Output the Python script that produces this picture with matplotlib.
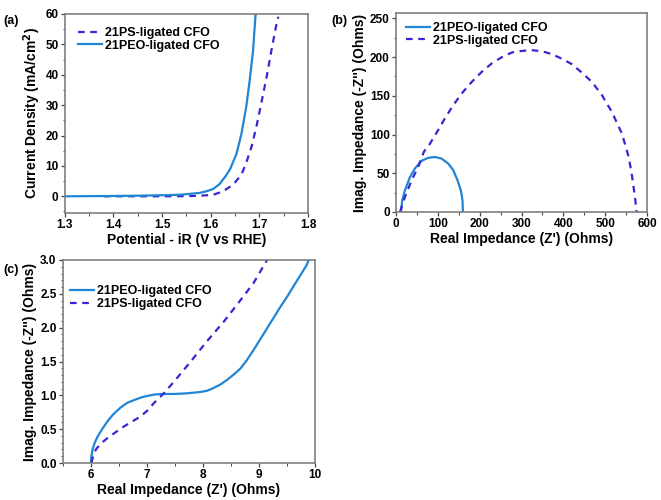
import matplotlib.pyplot as plt
from matplotlib import ticker

FONT_SIZE = 10
TICK_SIZE = 8.5
LEGEND_SIZE = 9

PEO_COLOR = "#2185d5"
PS_COLOR = "#3a24d4"

LABEL_PEO = "21PEO-ligated CFO"
LABEL_PS = "21PS-ligated CFO"

# (a) polarization curves, potential (V vs RHE) / current density (mA/cm2)
lsv_peo_v = [1.30, 1.35, 1.40, 1.45, 1.50, 1.536, 1.557, 1.577, 1.59, 1.605, 1.618, 1.63, 1.64,
             1.653, 1.663, 1.673, 1.68, 1.687, 1.692, 1.693]
lsv_peo_j = [0.0, 0.05, 0.1, 0.2, 0.35, 0.5, 0.8, 1.1, 1.6, 2.4, 4.0, 6.5, 9.0,
             14.0, 20.5, 29.5, 38.0, 48.0, 59.5, 60.0]
lsv_ps_v = [1.38, 1.45, 1.50, 1.55, 1.58, 1.605, 1.625, 1.646, 1.663, 1.673, 1.684, 1.694,
            1.704, 1.715, 1.725, 1.734, 1.739]
lsv_ps_j = [0.0, 0.0, 0.0, 0.05, 0.2, 0.5, 1.6, 3.8, 7.1, 11.0, 16.4, 23.0,
            30.7, 39.4, 48.2, 55.8, 59.1]

# (b) Nyquist plots, full range (Ohms)
eis_peo_re = [12, 15, 21.5, 33.5, 45, 61, 77, 93, 109, 125, 137, 147, 155, 159, 160]
eis_peo_im = [0, 15, 28, 45, 56, 66, 70, 71, 69, 62.5, 54, 41, 28, 15, 0]
eis_ps_re = [9.6, 21.5, 37.5, 53, 67, 81, 101, 117, 137, 157, 181, 205, 229, 253, 277, 300,
             324, 348, 372, 396, 420, 442, 468, 492, 516, 540, 556, 563, 571, 575]
eis_ps_im = [0, 19.4, 41, 58, 78, 88, 106, 121, 138, 153, 168, 181, 192, 200, 206, 208,
             209, 207.7, 204, 198, 191, 181, 168, 151, 129, 101, 71, 50, 19, 0]

# (c) Nyquist plots, high frequency zoom (Ohms)
hf_peo_re = [6.0, 6.01, 6.03, 6.07, 6.12, 6.2, 6.3, 6.4, 6.53, 6.65, 6.77, 6.9, 7.0, 7.12, 7.24,
             7.48, 7.72, 7.96, 8.08, 8.19, 8.31, 8.43, 8.55, 8.67, 8.78, 8.9, 9.02, 9.14, 9.26,
             9.38, 9.5, 9.61, 9.73, 9.85, 9.88]
hf_peo_im = [0.0, 0.1, 0.2, 0.3, 0.39, 0.5, 0.62, 0.72, 0.82, 0.89, 0.93, 0.97, 0.99, 1.01, 1.02,
             1.02, 1.03, 1.05, 1.07, 1.11, 1.16, 1.23, 1.31, 1.40, 1.52, 1.67, 1.83, 1.99, 2.15,
             2.31, 2.46, 2.61, 2.77, 2.93, 3.0]
hf_ps_re = [6.01, 6.04, 6.09, 6.18, 6.3, 6.45, 6.59, 6.75, 6.89, 7.0, 7.13, 7.3, 7.48, 7.78,
            8.07, 8.37, 8.67, 8.9, 9.14]
hf_ps_im = [0.0, 0.1, 0.2, 0.29, 0.37, 0.46, 0.54, 0.62, 0.69, 0.77, 0.89, 1.03, 1.2, 1.5,
            1.8, 2.09, 2.41, 2.66, 3.0]


def style_ax(ax):
    for s in ax.spines.values():
        s.set_color("#7f7f7f")
        s.set_linewidth(1.2)
    ax.tick_params(which="both", direction="out", top=False, right=False,
                   colors="#444444", labelcolor="black", labelsize=TICK_SIZE, pad=1.5)
    ax.tick_params(which="major", length=3, width=0.9)
    ax.tick_params(which="minor", length=1.8, width=0.7)
    for lab in ax.get_xticklabels() + ax.get_yticklabels():
        lab.set_fontweight("bold")


def add_legend(ax, anchor):
    ax.legend(loc="upper left", bbox_to_anchor=anchor, frameon=False,
              prop={"weight": "bold", "size": LEGEND_SIZE},
              handlelength=1.9, handletextpad=0.25, borderaxespad=0.0, labelspacing=0.05)


plt.rcParams["font.family"] = ["Liberation Sans", "DejaVu Sans"]
fig = plt.figure(figsize=(6.61, 5.0), dpi=100)

# ---- (a)
ax = fig.add_axes([0.098, 0.574, 0.368, 0.398])
ax.plot(lsv_ps_v, lsv_ps_j, "--", color=PS_COLOR, lw=1.6, label=LABEL_PS, dashes=(3, 2.5))
ax.plot(lsv_peo_v, lsv_peo_j, "-", color=PEO_COLOR, lw=1.6, label=LABEL_PEO)
ax.set_xlim(1.3, 1.8)
ax.set_ylim(-5.5, 60)
ax.xaxis.set_major_locator(ticker.MultipleLocator(0.1))
ax.xaxis.set_minor_locator(ticker.MultipleLocator(0.05))
ax.yaxis.set_major_locator(ticker.MultipleLocator(10))
ax.yaxis.set_minor_locator(ticker.MultipleLocator(5))
ax.set_xlabel("Potential - iR (V vs RHE)", fontsize=FONT_SIZE, fontweight="bold", labelpad=1)
ax.set_ylabel(r"Current Density (mA/cm$^\mathbf{2}$)", fontsize=FONT_SIZE, fontweight="bold", labelpad=2)
add_legend(ax, (0.035, 0.96))
style_ax(ax)
fig.text(0.005, 0.952, "(a)", fontsize=9, fontweight="bold")

# ---- (b)
ax = fig.add_axes([0.599, 0.576, 0.380, 0.398])
ax.plot(eis_peo_re, eis_peo_im, "-", color=PEO_COLOR, lw=1.6, label=LABEL_PEO)
ax.plot(eis_ps_re, eis_ps_im, "--", color=PS_COLOR, lw=1.6, label=LABEL_PS, dashes=(3, 2.5))
ax.set_xlim(0, 600)
ax.set_ylim(0, 257)
ax.xaxis.set_major_locator(ticker.MultipleLocator(100))
ax.xaxis.set_minor_locator(ticker.MultipleLocator(50))
ax.yaxis.set_major_locator(ticker.MultipleLocator(50))
ax.yaxis.set_minor_locator(ticker.MultipleLocator(25))
ax.set_xlabel("Real Impedance (Z') (Ohms)", fontsize=FONT_SIZE, fontweight="bold", labelpad=1)
ax.set_ylabel("Imag. Impedance (-Z'') (Ohms)", fontsize=FONT_SIZE, fontweight="bold", labelpad=2)
add_legend(ax, (0.02, 0.98))
style_ax(ax)
fig.text(0.502, 0.952, "(b)", fontsize=9, fontweight="bold")

# ---- (c)
ax = fig.add_axes([0.095, 0.074, 0.382, 0.406])
ax.plot(hf_peo_re, hf_peo_im, "-", color=PEO_COLOR, lw=1.6, label=LABEL_PEO)
ax.plot(hf_ps_re, hf_ps_im, "--", color=PS_COLOR, lw=1.6, label=LABEL_PS, dashes=(3, 2.5))
ax.set_xlim(5.5, 10)
ax.set_ylim(0, 3)
ax.xaxis.set_major_locator(ticker.MultipleLocator(1))
ax.xaxis.set_minor_locator(ticker.MultipleLocator(0.5))
ax.yaxis.set_major_locator(ticker.MultipleLocator(0.5))
ax.yaxis.set_minor_locator(ticker.MultipleLocator(0.1))
ax.yaxis.set_major_formatter(ticker.FormatStrFormatter("%.1f"))
ax.set_xlabel("Real Impedance (Z') (Ohms)", fontsize=FONT_SIZE, fontweight="bold", labelpad=1)
ax.set_ylabel("Imag. Impedance (-Z'') (Ohms)", fontsize=FONT_SIZE, fontweight="bold", labelpad=2)
add_legend(ax, (0.01, 0.9))
style_ax(ax)
fig.text(0.005, 0.455, "(c)", fontsize=9, fontweight="bold")

plt.savefig("out.png", dpi=100)
